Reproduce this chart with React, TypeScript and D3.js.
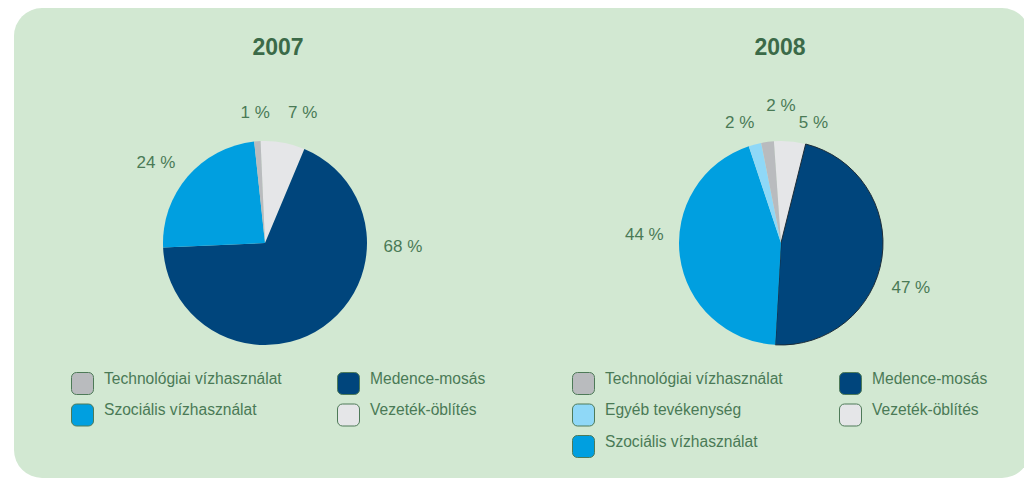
import { useEffect, useRef } from "react"
import * as d3 from "d3"

// --- data ---
const categories2007 = ["Vezeték-öblítés", "Medence-mosás", "Szociális vízhasználat", "Technológiai vízhasználat"]
const values2007 = [7, 68, 24, 1]

const categories2008 = ["Vezeték-öblítés", "Medence-mosás", "Szociális vízhasználat", "Egyéb tevékenység", "Technológiai vízhasználat"]
const values2008 = [5, 47, 44, 2, 2]

const years = ["2007", "2008"]

const colors: Record<string, string> = {
  "Vezeték-öblítés": "#e5e6e8",
  "Medence-mosás": "#00457c",
  "Szociális vízhasználat": "#009fe0",
  "Egyéb tevékenység": "#8fd8f7",
  "Technológiai vízhasználat": "#b9bbbe",
}

// --- layout (not data) ---
const W = 1024
const H = 479
const FONT = "'Liberation Sans', Arial, sans-serif"
const TITLE_COLOR = "#3b6a48"
const TEXT_COLOR = "#4a7a56"

const panels = [
  {
    cx: 265, cy: 243, r: 102, titleX: 278, startDeg: -2.5,
    // label angle shift (deg) and radius per slice, to keep labels apart like the original
    labelShift: [6, -54, -4, 0], labelR: [136, 138, 136, 131],
    legendX: 71, legendCol2: 337,
  },
  {
    cx: 781, cy: 243, r: 102, titleX: 780, startDeg: -4,
    labelShift: [10, 10, 11.4, -4, 7.6], labelR: [125, 137, 137, 128, 138],
    legendX: 572, legendCol2: 839,
  },
]

export default function App() {
  const svgRef = useRef<SVGSVGElement>(null)

  useEffect(() => {
    document.body.style.margin = "0"
    if (!svgRef.current) return
    const svg = d3.select(svgRef.current)
    svg.selectAll("*").remove()

    // background panel
    svg.append("rect")
      .attr("x", 14).attr("y", 8)
      .attr("width", 1016).attr("height", 470)
      .attr("rx", 28).attr("ry", 28)
      .attr("fill", "#d2e8d2")

    const datasets = [
      { cats: categories2007, vals: values2007 },
      { cats: categories2008, vals: values2008 },
    ]

    datasets.forEach((ds, i) => {
      const p = panels[i]
      const g = svg.append("g")

      g.append("text")
        .attr("x", p.titleX).attr("y", 55)
        .attr("text-anchor", "middle")
        .attr("font-family", FONT)
        .attr("font-weight", "bold")
        .attr("font-size", 23)
        .attr("fill", TITLE_COLOR)
        .text(years[i])

      const start = (p.startDeg * Math.PI) / 180
      const pie = d3.pie<number>().sort(null).value(d => d)
        .startAngle(start).endAngle(start + 2 * Math.PI)
      const arcs = pie(ds.vals)
      const arc = d3.arc<d3.PieArcDatum<number>>().innerRadius(0).outerRadius(p.r)

      const pieG = g.append("g").attr("transform", `translate(${p.cx},${p.cy})`)
      pieG.selectAll("path")
        .data(arcs)
        .join("path")
        .attr("d", arc)
        .attr("fill", (_, j) => colors[ds.cats[j]])
        .attr("stroke", (_, j) => (i === 1 && ds.cats[j] === "Medence-mosás" ? "#1c2c38" : "none"))
        .attr("stroke-width", 1)

      pieG.selectAll("text")
        .data(arcs)
        .join("text")
        .attr("transform", (d, j) => {
          const a = (d.startAngle + d.endAngle) / 2 + (p.labelShift[j] * Math.PI) / 180
          const rr = p.labelR[j]
          return `translate(${rr * Math.sin(a)},${-rr * Math.cos(a)})`
        })
        .attr("text-anchor", "middle")
        .attr("dy", "0.36em")
        .attr("font-family", FONT)
        .attr("font-size", 17)
        .attr("fill", TEXT_COLOR)
        .text(d => `${d.data} %`)

      // legend: reversed slice order, column-major
      const items = ds.cats.slice().reverse()
      const rows = Math.ceil(items.length / 2)
      const leg = g.append("g")
      items.forEach((c, k) => {
        const col = Math.floor(k / rows)
        const row = k % rows
        const x = col === 0 ? p.legendX : p.legendCol2
        const y = 372 + row * 31.5
        leg.append("rect")
          .attr("x", x + 0.5).attr("y", y + 0.5)
          .attr("width", 22).attr("height", 22)
          .attr("rx", 5)
          .attr("fill", colors[c])
          .attr("stroke", "#4e7a58")
          .attr("stroke-width", 1)
        leg.append("text")
          .attr("x", x + 33).attr("y", y + 11.5)
          .attr("font-family", FONT)
          .attr("font-size", 15.6)
          .attr("fill", TEXT_COLOR)
          .text(c)
      })
    })
  }, [])

  return <svg ref={svgRef} width={W} height={H} style={{ display: "block" }} />
}
